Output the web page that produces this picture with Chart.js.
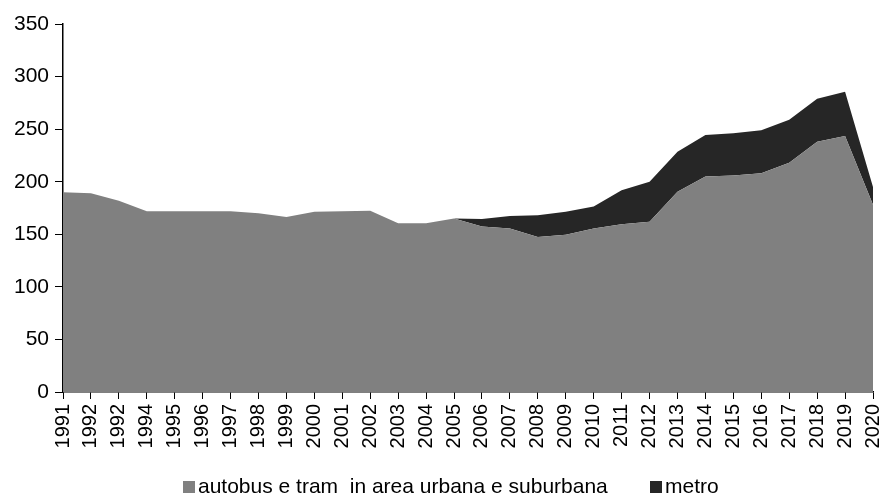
<!DOCTYPE html>
<html>
<head>
<meta charset="utf-8">
<script src="https://cdn.jsdelivr.net/npm/chart.js@4"></script>
<style>
  body { margin: 0; background: #fff; }
  #wrap { position: relative; width: 882px; height: 499px; }
  #legend { position: absolute; top: 474px; left: 0; width: 882px; font-family: "Liberation Sans", Arial, sans-serif; font-size: 21px; line-height: 24px; color: #000; }
  .item { position: absolute; white-space: pre; }
  .box { display: inline-block; width: 12px; height: 12px; margin-right: 3px; }
</style>
</head>
<body>
<div id="wrap">
  <canvas id="chart" width="882" height="499"></canvas>
  <div id="legend">
    <span class="item" style="left:183px"><span class="box" style="background:#808080"></span>autobus e tram  in area urbana e suburbana</span>
    <span class="item" style="left:650px"><span class="box" style="background:#262626"></span>metro</span>
  </div>
</div>
<script>
  // years (the repeated 1992 is as in the source)
  const years = ['1991', '1992', '1992', '1994', '1995', '1996', '1997', '1998', '1999', '2000',
    '2001', '2002', '2003', '2004', '2005', '2006', '2007', '2008', '2009', '2010',
    '2011', '2012', '2013', '2014', '2015', '2016', '2017', '2018', '2019', '2020'];

  const autobus = [190, 189, 182, 172, 172, 172, 172, 170, 166.5, 171.5,
    172, 172.5, 160.5, 160.5, 165, 157.5, 155.5, 147.5, 149.5, 155.5,
    159.5, 162, 190.5, 205, 206, 208, 218, 238, 243.5, 178];

  const metro = [0, 0, 0, 0, 0, 0, 0, 0, 0, 0,
    0, 0, 0, 0, 0, 7, 12, 20.5, 22, 21,
    32.5, 38, 38, 39.5, 40, 41, 41, 41, 42, 17];

  const family = '"Liberation Sans", Arial, sans-serif';

  new Chart(document.getElementById('chart'), {
    type: 'line',
    data: {
      labels: years,
      datasets: [
        { label: 'autobus e tram in area urbana e suburbana', data: autobus,
          backgroundColor: '#808080', borderWidth: 0, fill: 'origin', pointRadius: 0 },
        { label: 'metro', data: metro,
          backgroundColor: '#262626', borderWidth: 0, fill: '-1', pointRadius: 0 },
      ],
    },
    options: {
      responsive: false,
      animation: false,
      layout: { padding: { top: 24, right: 9, bottom: 47, left: 0 } },
      plugins: {
        legend: { display: false },
        tooltip: { enabled: false },
      },
      scales: {
        x: {
          offset: false,
          grid: { drawOnChartArea: false, color: '#000', tickLength: 7 },
          border: { color: '#000', width: 1.5 },
          ticks: { color: '#000', font: { family: family, size: 20 }, minRotation: 90, maxRotation: 90, autoSkip: false, padding: 5 },
          afterFit: s => { s.height = 60; s.paddingRight = 0; s.paddingLeft = 0; },
        },
        y: {
          stacked: true,
          min: 0, max: 350,
          grid: { drawOnChartArea: false, color: '#000', tickLength: 8 },
          border: { color: '#000', width: 1.5 },
          ticks: { color: '#000', font: { family: family, size: 21 }, stepSize: 50, padding: 6 },
          afterFit: s => { s.width = 63; s.paddingTop = 0; },
        },
      },
    },
  });
</script>
</body>
</html>
